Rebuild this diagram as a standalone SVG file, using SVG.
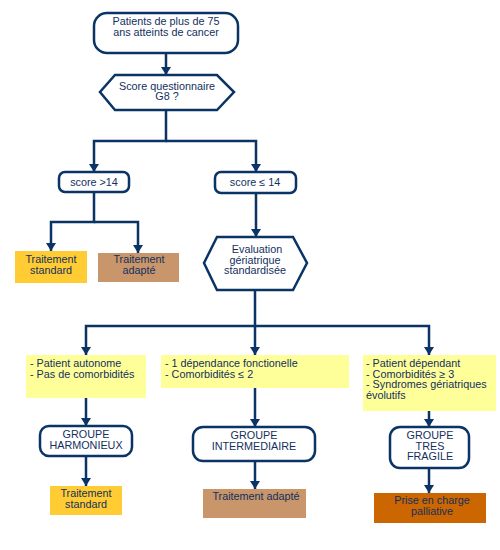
<svg xmlns="http://www.w3.org/2000/svg" width="500" height="550" viewBox="0 0 500 550">
<defs>
<style>
text{font-family:"Liberation Sans",Arial,sans-serif;font-size:10.8px;fill:#13305e}
.c{text-anchor:middle}
.n{fill:#fff;stroke:#0a3366;stroke-width:2.5}
.l{fill:none;stroke:#0a3366;stroke-width:2.5}
.y{fill:#ffff99}
</style>
<marker id="a" viewBox="0 0 8 10" refX="8" refY="5" markerWidth="3.4" markerHeight="4.2" orient="auto" markerUnits="strokeWidth">
<path d="M0,0 L8,5 L0,10 z" fill="#0a3366"/>
</marker>
</defs>
<rect width="500" height="550" fill="#fff"/>
<g id="connectors">
<path class="l" d="M166,53 V75" marker-end="url(#a)"/>
<path class="l" d="M166,110 V141 H94 V172" marker-end="url(#a)"/>
<path class="l" d="M166,141 H256 V172" marker-end="url(#a)"/>
<path class="l" d="M94,192 V222 H51 V251" marker-end="url(#a)"/>
<path class="l" d="M94,222 H138 V253" marker-end="url(#a)"/>
<path class="l" d="M256,193 V237" marker-end="url(#a)"/>
<path class="l" d="M255,290 V326 H86 V355" marker-end="url(#a)"/>
<path class="l" d="M255,326 V355" marker-end="url(#a)"/>
<path class="l" d="M255,326 H429 V355" marker-end="url(#a)"/>
<path class="l" d="M86,398 V426" marker-end="url(#a)"/>
<path class="l" d="M255,388 V427" marker-end="url(#a)"/>
<path class="l" d="M429,411 V427" marker-end="url(#a)"/>
<path class="l" d="M86,456 V486" marker-end="url(#a)"/>
<path class="l" d="M255,461 V489" marker-end="url(#a)"/>
<path class="l" d="M429,468 V493" marker-end="url(#a)"/>
</g>
<g id="start">
<rect class="n" x="94" y="13" width="144" height="40" rx="13"/>
<text class="c" x="166" y="25">Patients de plus de 75</text>
<text class="c" x="166" y="35.5">ans atteints de cancer</text>
</g>
<g id="g8">
<path class="n" d="M115,75 H217 L234,92 L217,110 H115 L100,92 Z"/>
<text class="c" x="167" y="89.5">Score questionnaire</text>
<text class="c" x="167" y="100">G8 ?</text>
</g>
<g id="scoreHigh">
<rect class="n" x="59" y="172" width="70" height="20" rx="6"/>
<text class="c" x="94" y="186">score &gt;14</text>
</g>
<g id="scoreLow">
<rect class="n" x="215" y="172" width="81" height="21" rx="6"/>
<text class="c" x="255" y="186">score ≤ 14</text>
</g>
<g id="std1">
<rect x="15" y="251" width="72" height="32" fill="#ffcc33"/>
<text class="c" x="51" y="263">Traitement</text>
<text class="c" x="51" y="273.5">standard</text>
</g>
<g id="adapt1">
<rect x="98" y="253" width="81" height="29" fill="#c8966a"/>
<text class="c" x="139" y="263">Traitement</text>
<text class="c" x="139" y="273.5">adapté</text>
</g>
<g id="eval">
<path class="n" d="M217,237 H293 L307,263 L293,290 H217 L204,263 Z"/>
<text class="c" x="257" y="253">Evaluation</text>
<text class="c" x="255" y="263.5">gériatrique</text>
<text class="c" x="255" y="274">standardisée</text>
</g>
<g id="crit1">
<rect class="y" x="26" y="355" width="120" height="43"/>
<text x="30" y="367">- Patient autonome</text>
<text x="30" y="377.5">- Pas de comorbidités</text>
</g>
<g id="crit2">
<rect class="y" x="161" y="355" width="188" height="33"/>
<text x="165" y="367">- 1 dépendance fonctionelle</text>
<text x="165" y="377.5">- Comorbidités ≤ 2</text>
</g>
<g id="crit3">
<rect class="y" x="363" y="355" width="133" height="56"/>
<text x="366" y="367">- Patient dépendant</text>
<text x="366" y="377.5">- Comorbidités ≥ 3</text>
<text x="366" y="388">- Syndromes gériatriques</text>
<text x="366" y="398.5">évolutifs</text>
</g>
<g id="harmonieux">
<rect class="n" x="40" y="426" width="92" height="30" rx="9"/>
<text class="c" x="86" y="438">GROUPE</text>
<text class="c" x="86" y="448.5">HARMONIEUX</text>
</g>
<g id="intermediaire">
<rect class="n" x="193" y="427" width="122" height="34" rx="10"/>
<text class="c" x="254" y="439">GROUPE</text>
<text class="c" x="254" y="449.5">INTERMEDIAIRE</text>
</g>
<g id="fragile">
<rect class="n" x="390" y="427" width="79" height="41" rx="10"/>
<text class="c" x="430" y="439">GROUPE</text>
<text class="c" x="430" y="449.5">TRES</text>
<text class="c" x="430" y="460">FRAGILE</text>
</g>
<g id="std2">
<rect x="50" y="486" width="72" height="29" fill="#ffcc33"/>
<text class="c" x="86" y="497">Traitement</text>
<text class="c" x="86" y="507.5">standard</text>
</g>
<g id="adapt2">
<rect x="203" y="489" width="103" height="29" fill="#c8966a"/>
<text class="c" x="256" y="500">Traitement adapté</text>
</g>
<g id="palliatif">
<rect x="374" y="493" width="112" height="30" fill="#cc6600"/>
<text class="c" x="432" y="504">Prise en charge</text>
<text class="c" x="432" y="514.5">palliative</text>
</g>
</svg>
